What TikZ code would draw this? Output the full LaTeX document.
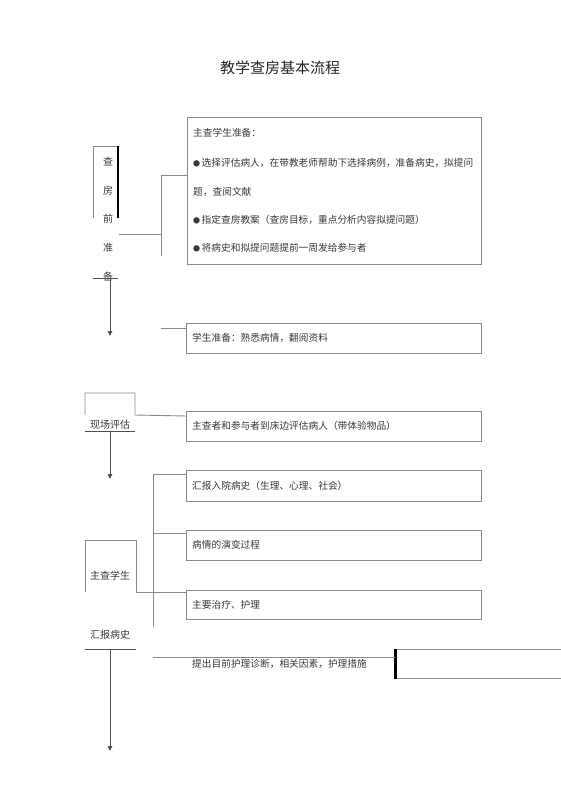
\documentclass[tikz,border=0pt]{standalone}
\usepackage{fontspec}
\setmainfont{Noto Sans CJK SC}
\usetikzlibrary{arrows.meta}
\definecolor{lngray}{HTML}{8A8A8A}
\definecolor{dkgray}{HTML}{505050}
\definecolor{txgray}{HTML}{383838}
\newcommand\mybul{{\fontsize{7}{7}\selectfont●}\hspace{1.5pt}}
\begin{document}
\begin{tikzpicture}[x=1pt,y=-1pt,
  box/.style={draw=lngray, line width=0.9pt, anchor=north west, inner sep=0pt, minimum width=295pt, minimum height=30pt},
  txt/.style={anchor=west, inner sep=0pt, text=txgray, font=\fontsize{9.7}{12}\selectfont},
  lbl/.style={inner sep=0pt, text=txgray, font=\fontsize{10}{12}\selectfont},
  ln/.style={draw=lngray, line width=0.9pt},
  dk/.style={draw=dkgray, line width=0.9pt},
  arr/.style={draw=dkgray, line width=0.9pt, -{Triangle[width=4.5pt,length=5pt]}}]
\useasboundingbox (0,0) rectangle (560,792);
% title
\node[inner sep=0pt, text=black!85, font=\fontsize{15}{18}\selectfont] (title) at (280,68) {教学查房基本流程};
% boxes
\node[box, minimum width=294pt, minimum height=147pt] (b1) at (187,117) {};
\node[box, minimum height=30pt] (b2) at (186,323) {};
\node[box, minimum height=30pt] (b3) at (186,411) {};
\node[box, minimum height=31pt] (b4) at (186,470) {};
\node[box, minimum height=30pt] (b5) at (186,530) {};
\node[box, minimum height=29pt] (b6) at (186,590) {};
\node[box, minimum width=175pt, minimum height=29pt] (b7) at (395,649) {};
\draw[black, line width=3pt] (b7.north west) -- (b7.south west);
% box texts
\node[txt] (t11) at (193,133) {主查学生准备：};
\node[txt] (t12) at (193,163) {\mybul 选择评估病人，在带教老师帮助下选择病例，准备病史，拟提问};
\node[txt] (t13) at (193,192) {题，查阅文献};
\node[txt] (t14) at (193,220) {\mybul 指定查房教案（查房目标，重点分析内容拟提问题）};
\node[txt] (t15) at (193,248) {\mybul 将病史和拟提问题提前一周发给参与者};
\node[txt] (t2) at (192,338) {学生准备：熟悉病情，翻阅资料};
\node[txt] (t3) at (192,426) {主查者和参与者到床边评估病人（带体验物品）};
\node[txt] (t4) at (192,486) {汇报入院病史（生理、心理、社会）};
\node[txt] (t5) at (192,545) {病情的演变过程};
\node[txt] (t6) at (192,605) {主要治疗、护理};
\node[txt] (t7) at (192,664) {提出目前护理诊断，相关因素，护理措施};
% left column labels
\node[lbl, align=center, font=\fontsize{10}{28.8}\selectfont] (prep) at (108,219) {查\\房\\前\\准\\备};
\node[lbl] (scene) at (110,425) {现场评估};
\node[lbl] (stu) at (110,576) {主查学生};
\node[lbl] (rep) at (110,635) {汇报病史};
% section 1
\draw[ln] (93,218) -- (93,146) -- (118,146);
\draw[draw=black, line width=1.1pt] (118,146) -- (118,218);
\draw[dk] (93,278) -- (118,278);
\coordinate (a1s) at (110,278);
\coordinate (a1e) at (110,336);
\draw[arr] (a1s) -- (a1e);
\coordinate (j1) at (161,234);
\draw[ln] (119,234) -- (j1);
\draw[ln] (161,175) -- (161,256);
\draw[ln] (161,175) -- (b1.west |- 0,175);
\draw[ln] (161,328) -- (b2.west |- 0,328);
% section 2
\draw[ln] (85,415) -- (85,393) -- (135,393) -- (135,415) -- (b3.west |- 0,416);
\draw[dk] (85,431) -- (135,431);
\coordinate (a2s) at (110,431);
\coordinate (a2e) at (110,479);
\draw[arr] (a2s) -- (a2e);
% section 3
\draw[ln] (153,474) -- (b4.west |- 0,474);
\draw[ln] (153,474) -- (153,627);
\draw[ln] (153,533) -- (b5.west |- 0,533);
\draw[ln] (85,592) -- (85,540) -- (136,540) -- (136,592) -- (b6.west |- 0,592);
\draw[dk] (85,649) -- (136,649);
\coordinate (a3s) at (110,649);
\coordinate (a3e) at (110,751);
\draw[arr] (a3s) -- (a3e);
\draw[ln] (153,657) -- (b7.west |- 0,657);
\end{tikzpicture}
\end{document}
